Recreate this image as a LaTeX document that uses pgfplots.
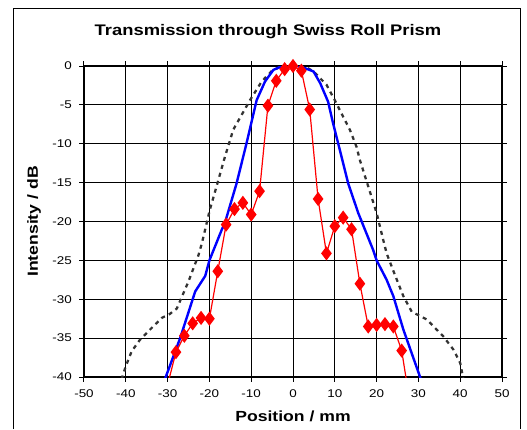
\documentclass[border=0pt]{standalone}
\usepackage{pgfplots}
\pgfplotsset{compat=1.18}
\usepackage{fontspec}
\setmainfont[FakeStretch=1.2]{Liberation Sans}
\begin{document}
\begin{tikzpicture}
\useasboundingbox (-63pt,-39pt) rectangle (332.25pt,282.75pt);
\draw[black, line width=0.75pt] (-52.5pt,-39pt) -- (-52.5pt,276pt) -- (327pt,276pt) -- (327pt,-39pt);
\node[font=\fontsize{11.5}{13}\selectfont\bfseries] at (138pt,259pt) {Transmission through Swiss Roll Prism};
\begin{axis}[
  at={(0,0)}, anchor=south west,
  scale only axis,
  width=313.5pt, height=233.25pt,
  xmin=-50, xmax=50, ymin=-40, ymax=0,
  xtick={-50,-40,...,50},
  ytick={-40,-35,...,0},
  grid=major,
  grid style={black, line width=0.7pt},
  axis line style={black, line width=0.9pt},
  tick align=outside,
  major tick length=3.5pt,
  tick style={black, line width=0.75pt},
  tick label style={font=\fontsize{8.4}{10}\selectfont, inner sep=0pt},
  /pgf/number format/assume math mode=true,
  yticklabel style={xshift=-5.5pt},
  xticklabel style={yshift=-5.5pt},
  xlabel={\textbf{Position / mm}},
  ylabel={\textbf{Intensity / dB}},
  label style={font=\fontsize{11}{13}\selectfont},
  xlabel style={at={(axis description cs:0.5,-0.1278)}, anchor=center},
  ylabel style={at={(axis description cs:-0.1196,0.5)}, anchor=center},
  clip=true,
]
% dotted reference curve
\addplot[black!80, line width=1.7pt, dash pattern=on 3pt off 3.2pt] coordinates {
  (-41,-40.3) (-40,-38.6) (-38.6,-36.7) (-36.6,-35.2) (-34.2,-33.9) (-31.4,-32.4)
  (-29.5,-31.9) (-27.8,-31.2) (-25,-27.7) (-22.6,-24.3) (-21.8,-22.8) (-19.9,-18.5)
  (-18.3,-15.5) (-16.3,-11.7) (-14.3,-8.2) (-12.3,-6.3) (-10.3,-4.4) (-7.5,-2.0)
  (-5,-0.6) (-3,-0.1) (0,0) (3,-0.1) (4.9,-0.7) (8,-2.4) (10,-4.4) (11.6,-6.1)
  (13.6,-8.2) (15.2,-10.4) (16,-12.1) (18,-15.5) (20,-18.9) (21.6,-22.4) (22.4,-24.1)
  (24.4,-26.9) (26.4,-29.6) (28.4,-31.6) (32,-32.6) (36,-34.8) (38.4,-36.5)
  (40,-38.2) (40.8,-40.4)
};
% blue curve
\addplot[blue, line width=1.8pt] coordinates {
  (-31,-40.8) (-27,-35) (-23.4,-29) (-21,-27) (-20,-25) (-17,-21) (-16.3,-20.2)
  (-13.5,-15.1) (-11.1,-9.9) (-8.7,-4.4) (-6.7,-2.0) (-4.7,-0.5) (-3,-0.1) (-1,0)
  (1,0) (2,-0.1) (4.9,-0.7) (6.5,-2.2) (8.4,-4.6) (9.6,-7.4) (11.2,-10.8)
  (13.2,-15.1) (15.6,-18.9) (19.2,-23.7) (20,-25) (22.4,-27.5) (24,-29.6)
  (26.4,-33.9) (30.4,-40) (31,-41)
};
% measured data
\addplot[red, line width=0.9pt, mark=diamond*, mark size=4.6pt, mark options={solid, fill=red}] coordinates {
  (-30,-41) (-28,-36.8) (-26,-34.7) (-24,-33.1) (-22,-32.4) (-20,-32.5) (-18,-26.4)
  (-16,-20.4) (-14,-18.4) (-12,-17.6) (-10,-19.1) (-8,-16.1) (-6,-5.1) (-4,-1.9)
  (-2,-0.4) (0,0) (2,-0.6) (4,-5.6) (6,-17.1) (8,-24.1) (10,-20.6) (12,-19.5)
  (14,-21.0) (16,-28.0) (18,-33.5) (20,-33.3) (22,-33.2) (24,-33.5) (26,-36.6)
  (28,-43.4)
};
\end{axis}
\end{tikzpicture}
\end{document}
